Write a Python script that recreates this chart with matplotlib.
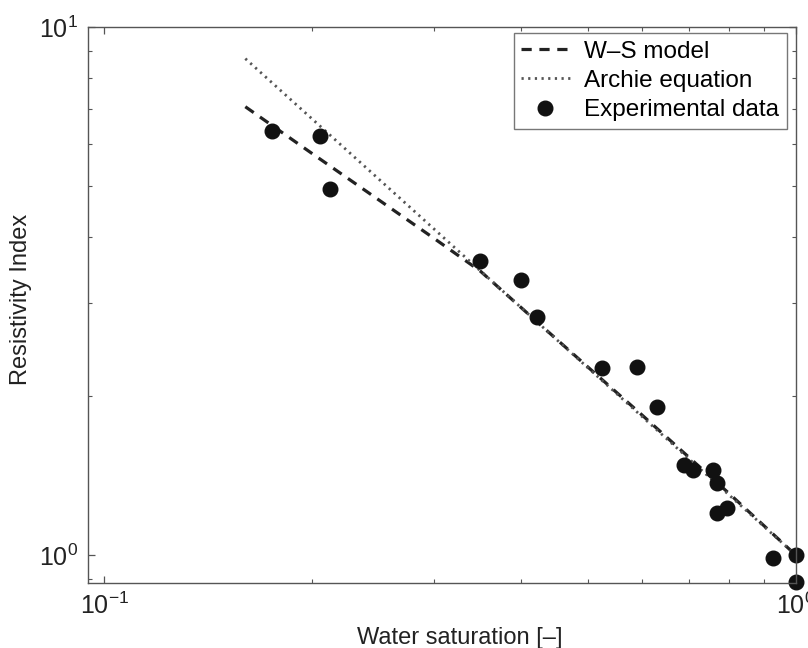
import numpy as np
import matplotlib
matplotlib.use("Agg")
import matplotlib.pyplot as plt
from matplotlib.ticker import LogLocator, NullFormatter

plt.rcParams['font.family'] = ['Liberation Sans', 'DejaVu Sans']
plt.rcParams['mathtext.fontset'] = 'custom'
plt.rcParams['mathtext.rm'] = 'Liberation Sans'
plt.rcParams['mathtext.it'] = 'Liberation Sans:italic'

# experimental points (Sw, RI)
sw_exp = [0.175, 0.205, 0.212, 0.350, 0.400, 0.422, 0.525, 0.590, 0.629,
          0.688, 0.709, 0.760, 0.770, 0.770, 0.796, 0.928, 1.000, 1.000]
ri_exp = [6.36, 6.22, 4.94, 3.60, 3.32, 2.82, 2.26, 2.27, 1.91,
          1.48, 1.45, 1.45, 1.37, 1.20, 1.23, 0.987, 1.00, 0.889]

# W-S model curve
sw_ws = [0.16, 0.20, 0.25, 0.30, 0.35, 0.45, 0.60, 0.80, 1.00]
ri_ws = [7.07, 5.76, 4.70, 3.98, 3.45, 2.57, 1.84, 1.31, 1.00]

# Archie equation (straight line in log-log)
sw_archie = [0.16, 0.40, 1.00]
ri_archie = [8.72, 2.95, 1.00]

fig = plt.figure(figsize=(8.08, 6.48), dpi=100)
ax = fig.add_axes([0.109, 0.100, 0.876, 0.858])

ax.plot(sw_ws, ri_ws, color='#222222', linestyle=(0, (3.2, 2.4)), linewidth=2.3,
        label='W\u2013S model')
ax.plot(sw_archie, ri_archie, color='#555555', linestyle=(0, (0.8, 1.6)), linewidth=2.0,
        label='Archie equation')
ax.plot(sw_exp, ri_exp, 'o', color='#111111', markersize=10.5, linestyle='none',
        label='Experimental data', clip_on=False)

ax.set_xscale('log')
ax.set_yscale('log')
ax.set_xlim(0.0948, 1.0)
ax.set_ylim(0.885, 10.0)

ax.xaxis.set_major_locator(LogLocator(base=10, numticks=5))
ax.yaxis.set_major_locator(LogLocator(base=10, numticks=5))
ax.xaxis.set_minor_locator(LogLocator(base=10, subs=np.arange(2, 10), numticks=20))
ax.yaxis.set_minor_locator(LogLocator(base=10, subs=np.arange(2, 10), numticks=20))
ax.xaxis.set_minor_formatter(NullFormatter())
ax.yaxis.set_minor_formatter(NullFormatter())

for s in ax.spines.values():
    s.set_color('#555555')
    s.set_linewidth(1.0)
ax.tick_params(which='both', direction='in', top=True, right=True, colors='#555555',
               labelcolor='#222222')
ax.tick_params(which='major', length=5, width=0.9, labelsize=18, pad=7)
ax.tick_params(which='minor', length=3, width=0.8)

ax.set_xlabel('Water saturation [\u2013]', fontsize=17, color='#222222')
ax.set_ylabel('Resistivity Index', fontsize=17, color='#222222')
ax.xaxis.set_label_coords(0.525, -0.078)
ax.yaxis.set_label_coords(-0.079, 0.51)

leg = ax.legend(loc='upper right', bbox_to_anchor=(0.987, 0.989), borderaxespad=0,
                fontsize=17.5, frameon=True, fancybox=False, handlelength=2.0,
                handletextpad=0.6, labelspacing=0.3, borderpad=0.3)
leg.get_frame().set_edgecolor('#555555')
leg.get_frame().set_linewidth(1.0)

fig.savefig('out.png', dpi=100)
